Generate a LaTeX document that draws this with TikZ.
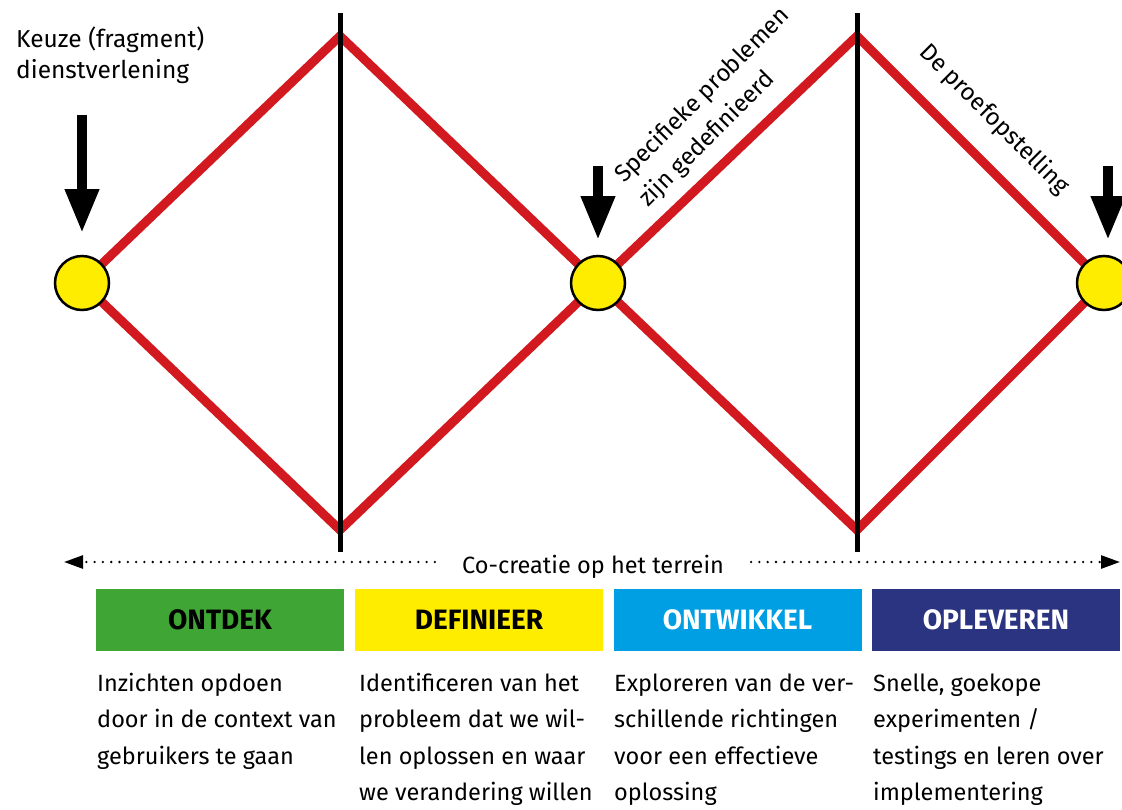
\documentclass[tikz,border=0pt]{standalone}
\usepackage{fontspec}
\setmainfont{Fira Sans}
\usetikzlibrary{arrows.meta,calc}
\definecolor{dred}{HTML}{D2191F}
\definecolor{dgreen}{HTML}{3FA535}
\definecolor{dyellow}{HTML}{FFED00}
\definecolor{dblue}{HTML}{009FE3}
\definecolor{dnavy}{HTML}{2B3480}
\begin{document}
\begin{tikzpicture}[x=1pt,y=-1pt,
  redline/.style={draw=dred, line width=9pt, line join=miter},
  phaseline/.style={draw=black, line width=5pt},
  dot/.style={circle, draw=black, fill=dyellow, line width=2.5pt, minimum size=54pt, inner sep=0pt, outer sep=0pt},
  bigarrow/.style={draw=black, line width=10pt, -{Triangle[length=44pt,width=32pt]}},
  dotline/.style={draw=black, line width=2.6pt, line cap=round, dash pattern=on 0pt off 8.3pt, -{Triangle[length=19pt,width=13pt]}},
  phase/.style={minimum width=248pt, minimum height=62pt, inner sep=0pt, font=\fontsize{28}{30}\selectfont\bfseries},
  body/.style={anchor=base west, align=left, inner sep=0pt, font=\fontsize{23.5}{36.6}\selectfont},
  cctext/.style={anchor=base, inner xsep=27pt, inner ysep=0pt, font=\fontsize{23.5}{28}\selectfont}
]
\useasboundingbox (0,0) rectangle (1122,809);
% key points
\coordinate (p1) at (82,283);
\coordinate (p2) at (598,283);
\coordinate (p3) at (1104,283);
\coordinate (t1) at (340,36);
\coordinate (b1) at (340,530);
\coordinate (t2) at (857,36);
\coordinate (b2) at (857,530);
% red diamonds
\draw[redline] (p1) -- (t1) -- (p2) -- (b1) -- cycle;
\draw[redline] (p2) -- (t2) -- (p3) -- (b2) -- cycle;
% phase separators
\coordinate (v1t) at (340,13);
\coordinate (v1b) at (340,552);
\coordinate (v2t) at (857,13);
\coordinate (v2b) at (857,552);
\draw[phaseline] (v1t) -- (v1b);
\draw[phaseline] (v2t) -- (v2b);
% milestones
\node[dot] (c1) at (p1) {};
\node[dot] (c2) at (p2) {};
\node[dot] (c3) at (p3) {};
% arrows
\coordinate (a1) at (82,115);
\coordinate (a2) at (598,166);
\coordinate (a3) at (1108,166);
\draw[bigarrow, shorten >=23pt] (a1) -- (a1 |- c1.north);
\draw[bigarrow, shorten >=16pt] (a2) -- (a2 |- c2.north);
\draw[bigarrow, shorten >=16pt] (a3) -- (a3 |- c3.north);
% labels (base anchor = baseline of the last line)
\node[body, font=\fontsize{24.5}{31}\selectfont] (k) at (16,78) {Keuze (fragment)\\dienstverlening};
\node[body, rotate=45, font=\fontsize{24}{34}\selectfont] (sp) at (648,208) {Specifieke problemen\\zijn gedefinieerd};
\node[body, rotate=-45, font=\fontsize{24}{34}\selectfont] (dp) at (918,53) {De proefopstelling};
% co-creation
\node[cctext] (cc) at (593,573) {Co-creatie op het terrein};
\coordinate (dl) at (64,562);
\coordinate (dr) at (1120,562);
\draw[dotline] (cc.west |- dl) -- (dl);
\draw[dotline] (cc.east |- dr) -- (dr);
% phases
\node[phase, fill=dgreen, text=black] (ph1) at (220,620) {ONTDEK};
\node[phase, fill=dyellow, text=black] (ph2) at (479,620) {DEFINIEER};
\node[phase, fill=dblue, text=white] (ph3) at (737.5,620) {ONTWIKKEL};
\node[phase, fill=dnavy, text=white] (ph4) at (996,620) {OPLEVEREN};
% descriptions
\node[body] (d1) at (97,764.2) {Inzichten opdoen\\door in de context van\\gebruikers te gaan};
\node[body] (d2) at (359,800.8) {Identificeren van het\\probleem dat we wil-\\len oplossen en waar\\we verandering willen};
\node[body] (d3) at (614,800.8) {Exploreren van de ver-\\schillende richtingen\\voor een effectieve\\oplossing};
\node[body] (d4) at (873,800.8) {Snelle, goekope\\experimenten /\\testings en leren over\\implementering};
\end{tikzpicture}
\end{document}
